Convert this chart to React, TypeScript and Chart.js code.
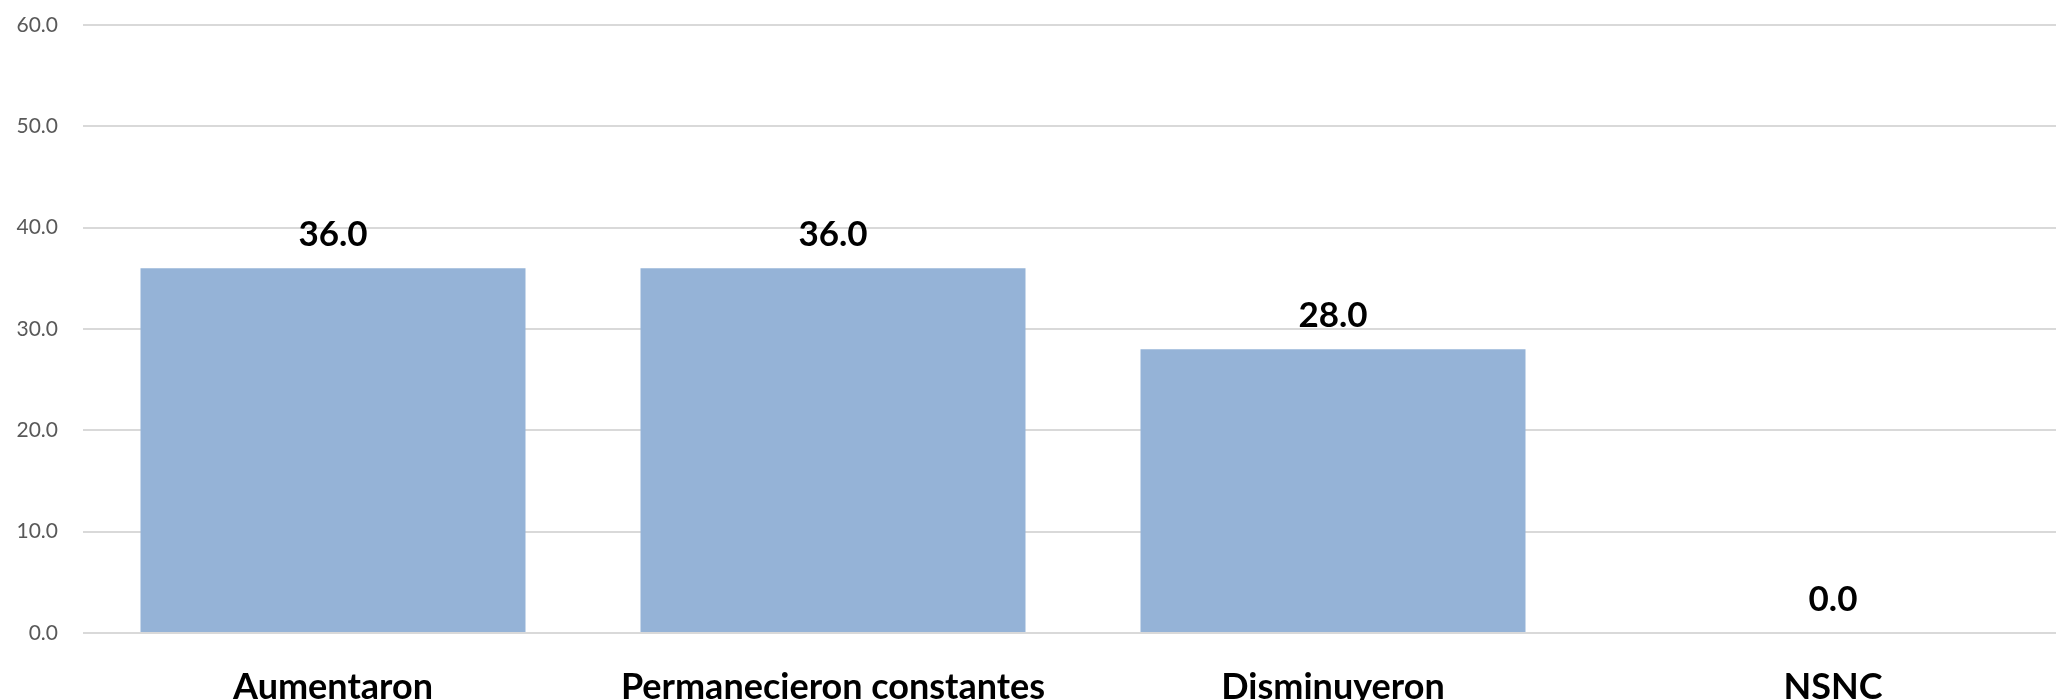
import React, { useEffect, useRef } from "react";
import { Chart, registerables } from "chart.js";

Chart.register(...registerables);

const categories = ["Aumentaron", "Permanecieron constantes", "Disminuyeron", "NSNC"];
const values = [36.0, 36.0, 28.0, 0.0];
const yTicks = [0, 10, 20, 30, 40, 50, 60];

const dataLabels = {
  id: "dataLabels",
  afterDatasetsDraw(chart: any) {
    const ctx = chart.ctx;
    const meta = chart.getDatasetMeta(0);
    ctx.save();
    ctx.font = "bold 35px Lato";
    ctx.fillStyle = "#000000";
    ctx.textAlign = "center";
    ctx.textBaseline = "alphabetic";
    meta.data.forEach((bar: any, i: number) => {
      const v = chart.data.datasets[0].data[i] as number;
      ctx.fillText(v.toFixed(1), bar.x, bar.y - 22);
    });
    ctx.restore();
  },
};

export default function App() {
  const ref = useRef<HTMLCanvasElement>(null);
  useEffect(() => {
    if (!ref.current) return;
    const chart = new Chart(ref.current, {
      type: "bar",
      data: {
        labels: categories,
        datasets: [
          {
            data: values,
            backgroundColor: "#95b3d7",
            borderWidth: 0,
            categoryPercentage: 1,
            barPercentage: 0.77,
          },
        ],
      },
      options: {
        animation: false,
        responsive: false,
        layout: { padding: { top: 25, left: 0, right: 0, bottom: 0 } },
        plugins: { legend: { display: false }, tooltip: { enabled: false } },
        scales: {
          x: {
            grid: { display: false },
            border: { display: false },
            ticks: {
              color: "#000000",
              font: { family: "Lato", size: 36, weight: "bold" },
              padding: 25,
              maxRotation: 0,
              autoSkip: false,
            },
            afterFit: (scale: any) => {
              scale.height = 760 - 633;
            },
          },
          y: {
            min: 0,
            max: 60,
            afterBuildTicks: (scale: any) => {
              scale.ticks = yTicks.map((v) => ({ value: v }));
            },
            grid: { color: "#d9d9d9", lineWidth: 2, drawTicks: false },
            border: { display: false },
            ticks: {
              color: "#595959",
              font: { family: "Lato", size: 21 },
              padding: 25,
              callback: (v: any) => Number(v).toFixed(1),
            },
            afterFit: (scale: any) => {
              scale.width = 83;
              scale.paddingTop = 0;
              scale.paddingBottom = 0;
            },
          },
        },
      },
      plugins: [dataLabels],
    });
    return () => chart.destroy();
  }, []);
  return (
    <div
      style={{
        position: "fixed",
        left: 0,
        top: 0,
        width: 2056,
        height: 700,
        overflow: "hidden",
        background: "#ffffff",
      }}
    >
      <canvas ref={ref} width={2083} height={760} style={{ display: "block", width: 2083, height: 760 }} />
    </div>
  );
}
